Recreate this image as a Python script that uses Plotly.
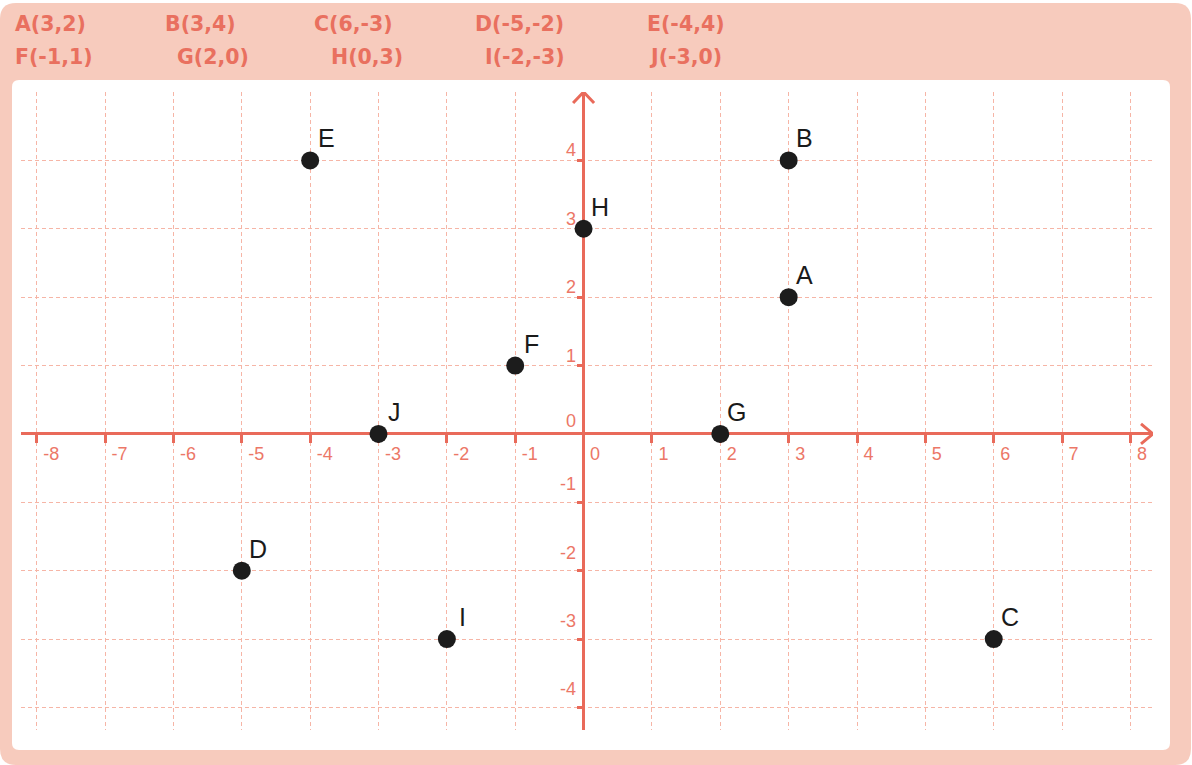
import plotly.graph_objects as go

# ---- data ----
names = ["A", "B", "C", "D", "E", "F", "G", "H", "I", "J"]
xs = [3, 3, 6, -5, -4, -1, 2, 0, -2, -3]
ys = [2, 4, -3, -2, 4, 1, 0, 3, -3, 0]
x_ticks = list(range(-8, 9))
y_ticks = list(range(-4, 5))

# ---- layout constants (pixels) ----
W, H = 1192, 765
PL, PR, PT, PB = 21, 1153, 92, 730          # plot area in pixels
X_RANGE = [-8.23, 8.33]
Y_RANGE = [-4.33, 5.0]

AXIS_COLOR = "#e96a5a"
GRID_COLOR = "#f6b5a6"
LABEL_COLOR = "#ec7767"
HEAD_COLOR = "#e9705f"
BG_SALMON = "#f7cbbd"
TICK_FONT = dict(family="Liberation Sans", size=18, color=LABEL_COLOR)


def px(x):
    return (x - PL) / (PR - PL)


def py(y):
    return (PB - y) / (PB - PT)


def rounded_rect(x0, y0, x1, y1, r):
    pts = [
        ("M", [(x0 + r, y0)]),
        ("L", [(x1 - r, y0)]),
        ("Q", [(x1, y0), (x1, y0 + r)]),
        ("L", [(x1, y1 - r)]),
        ("Q", [(x1, y1), (x1 - r, y1)]),
        ("L", [(x0 + r, y1)]),
        ("Q", [(x0, y1), (x0, y1 - r)]),
        ("L", [(x0, y0 + r)]),
        ("Q", [(x0, y0), (x0 + r, y0)]),
    ]
    s = ""
    for cmd, ps in pts:
        s += cmd + " " + " ".join(f"{px(a):.5f},{py(b):.5f}" for a, b in ps) + " "
    return s + "Z"


fig = go.Figure()

fig.add_trace(go.Scatter(
    x=xs, y=ys, mode="markers",
    marker=dict(size=18, color="#1c1c1c"),
    hoverinfo="skip", showlegend=False, cliponaxis=False,
))

shapes = [
    dict(type="path", xref="paper", yref="paper", layer="below",
         path=rounded_rect(0, 3, 1191, 765, 16), fillcolor=BG_SALMON, line=dict(width=0)),
    dict(type="path", xref="paper", yref="paper", layer="below",
         path=rounded_rect(12, 80, 1170, 750, 7), fillcolor="white", line=dict(width=0)),
]

# arrow heads at the ends of the axes (units per pixel)
ux = (X_RANGE[1] - X_RANGE[0]) / (PR - PL)
uy = (Y_RANGE[1] - Y_RANGE[0]) / (PB - PT)
xe, ye = X_RANGE[1], Y_RANGE[1]
shapes.append(dict(type="path", xref="x", yref="y", layer="between",
                   path=f"M {xe-12*ux},{10*uy} L {xe},0 L {xe-12*ux},{-10*uy}",
                   line=dict(color=AXIS_COLOR, width=3)))
shapes.append(dict(type="path", xref="x", yref="y", layer="between",
                   path=f"M {-10.5*ux},{ye-11*uy} L 0,{ye} L {10.5*ux},{ye-11*uy}",
                   line=dict(color=AXIS_COLOR, width=3)))

annotations = []
# point letters
for n, x, y in zip(names, xs, ys):
    annotations.append(dict(x=x, y=y, text=n, showarrow=False, xshift=16, yshift=22,
                            font=dict(family="Liberation Sans", size=25, color="#1a1a1a")))

# y tick labels (left of the vertical axis, above each tick)
for v in y_ticks:
    off = 10 if v > 0 else (13 if v == 0 else 18)
    annotations.append(dict(x=0, y=v, text=str(v), showarrow=False, xanchor="right",
                            yanchor="middle", xshift=-6, yshift=off, font=TICK_FONT))

# header labels
row1_x = [13, 163, 312, 473, 645]
row2_x = [13, 175, 329, 483, 647]
for i, (n, x, y) in enumerate(zip(names, xs, ys)):
    if i < 5:
        lx, ly = row1_x[i], 24
    else:
        lx, ly = row2_x[i - 5], 57
    annotations.append(dict(xref="paper", yref="paper", x=px(lx), y=py(ly),
                            xanchor="left", yanchor="middle", showarrow=False,
                            text=f"<b>{n}({x},{y})</b>",
                            font=dict(family="DejaVu Sans", size=20.5, color=HEAD_COLOR)))

fig.update_layout(
    width=W, height=H, autosize=False,
    margin=dict(l=PL, r=W - PR, t=PT, b=H - PB, pad=0),
    paper_bgcolor="white", plot_bgcolor="rgba(0,0,0,0)",
    shapes=shapes, annotations=annotations, showlegend=False,
    xaxis=dict(range=X_RANGE, tickvals=x_ticks, ticktext=[str(v) for v in x_ticks],
               showgrid=True, gridcolor=GRID_COLOR, griddash="4px,3px", gridwidth=1.4,
               zeroline=True, zerolinecolor=AXIS_COLOR, zerolinewidth=3,
               showline=False, anchor="free", layer="below traces",
               position=(0 - Y_RANGE[0]) / (Y_RANGE[1] - Y_RANGE[0]),
               ticks="outside", ticklen=8, tickwidth=3, tickcolor=AXIS_COLOR,
               ticklabelposition="outside right", ticklabelshift=5, ticklabelstandoff=3,
               tickfont=TICK_FONT, fixedrange=True),
    yaxis=dict(range=Y_RANGE, tickvals=y_ticks, showticklabels=False,
               showgrid=True, gridcolor=GRID_COLOR, griddash="4px,3px", gridwidth=1.4,
               zeroline=True, zerolinecolor=AXIS_COLOR, zerolinewidth=3,
               showline=False, anchor="free", layer="below traces",
               position=(0 - X_RANGE[0]) / (X_RANGE[1] - X_RANGE[0]),
               ticks="outside", ticklen=7, tickwidth=3, tickcolor=AXIS_COLOR,
               fixedrange=True),
)

fig.write_html("out.html", config={"displayModeBar": False},
               post_script="document.body.style.margin='0';document.body.style.overflow='hidden';")
